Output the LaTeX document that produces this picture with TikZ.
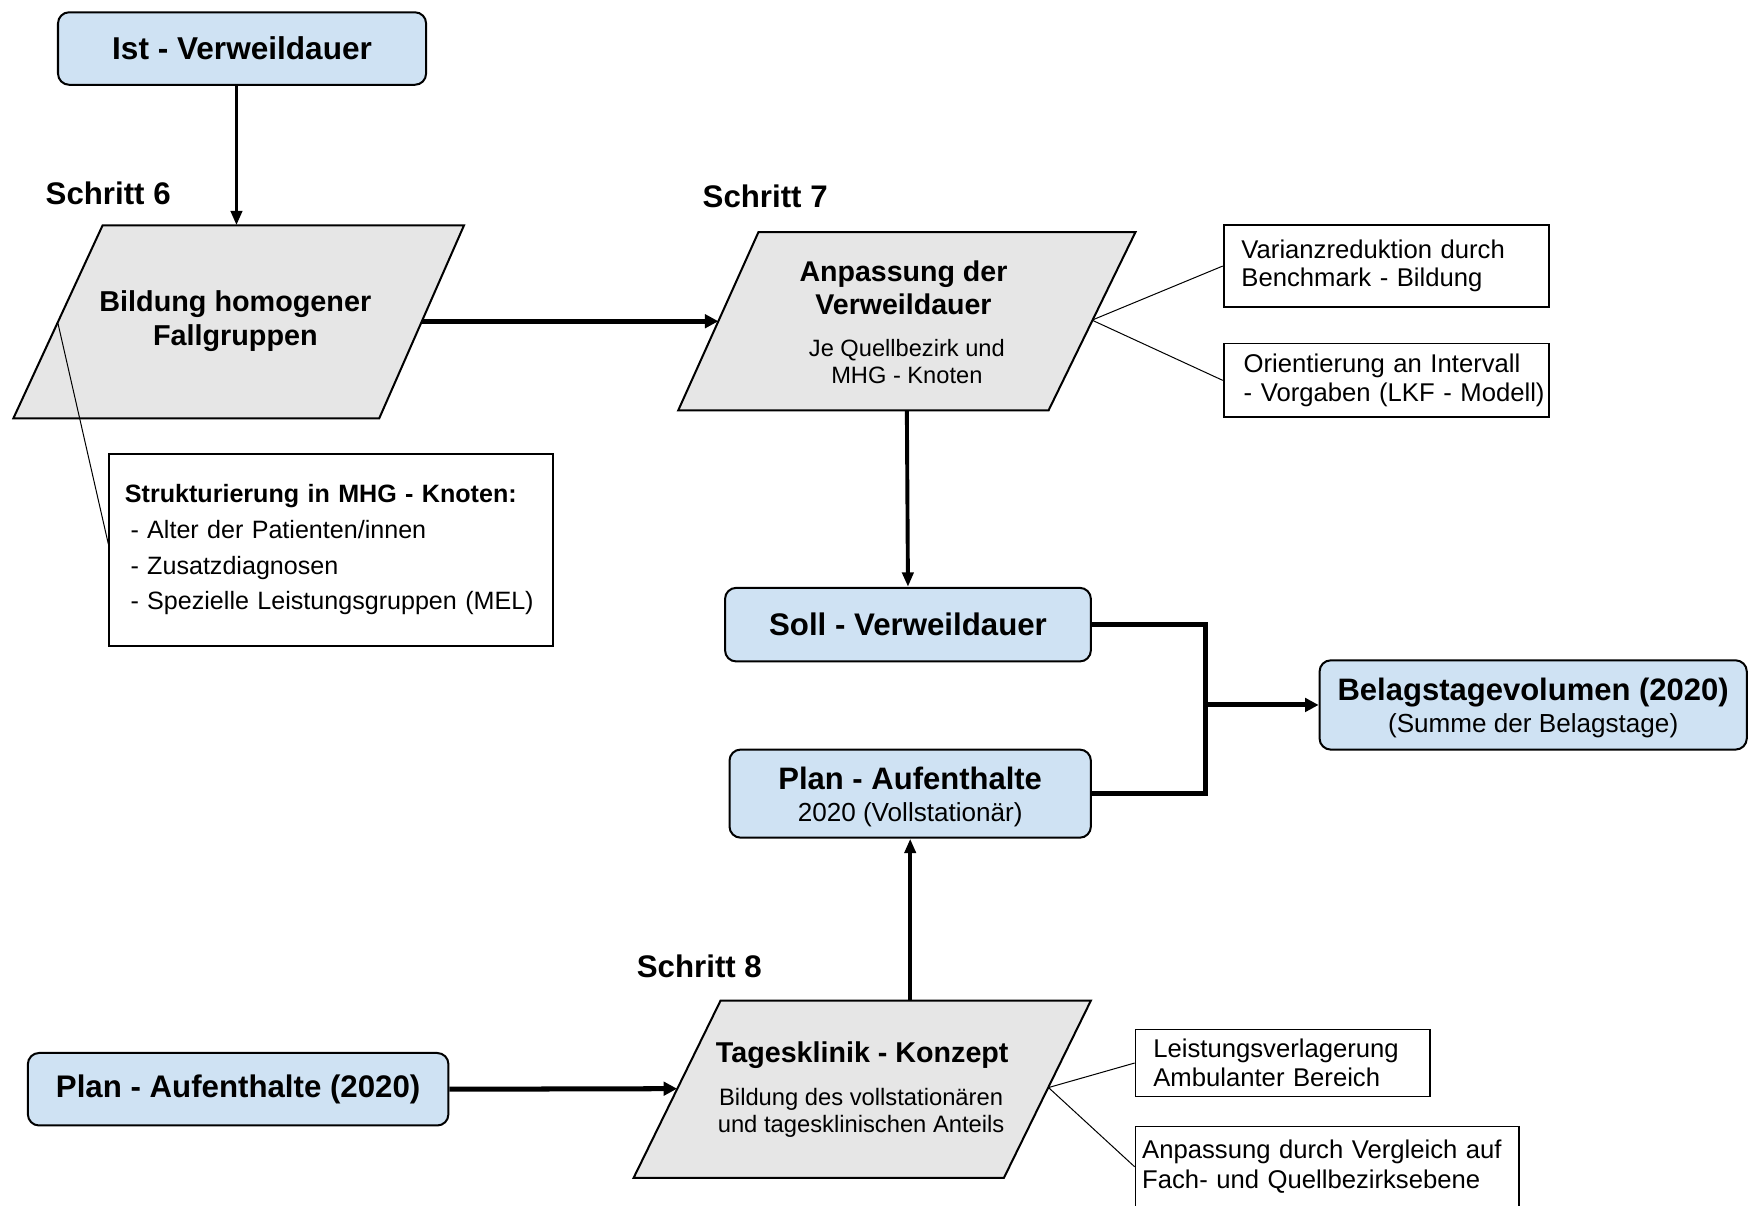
\documentclass[tikz,border=0pt]{standalone}
\usepackage{fontspec}
\setmainfont{Liberation Sans}
\usetikzlibrary{arrows.meta}
\definecolor{boxblue}{RGB}{207,226,243}
\definecolor{paragray}{RGB}{230,230,230}
\newcommand\fsz[2]{\fontsize{#1}{#2}\selectfont}
\newcommand\ind[1]{\hspace*{#1pt}}
\begin{document}
\begin{tikzpicture}[x=1pt,y=-1pt,
  bluebox/.style={draw, line width=1.8pt, rounded corners=10pt, fill=boxblue, align=center, inner sep=0pt},
  paraform/.style={draw, line width=1.8pt, fill=paragray, line join=miter},
  sidebox/.style={draw, line width=1.6pt, align=left, inner xsep=0pt, inner ysep=0pt, font=\fsz{23}{25.5}},
  txt/.style={align=center, inner sep=0pt},
  steplabel/.style={font=\fsz{28}{32}\bfseries, inner sep=0pt},
  bigarrow/.style={line width=4.5pt, -{Triangle[length=12pt,width=12pt]}},
  midarrow/.style={line width=3.5pt, -{Triangle[length=13pt,width=10pt]}},
  thinline/.style={line width=0.9pt},
  joinline/.style={line width=4.5pt, line join=miter}
]
\useasboundingbox (0,0) rectangle (1568,1081);

% --- top: Ist-Verweildauer and step 6
\node[bluebox, minimum width=330pt, minimum height=65pt, font=\fsz{28.3}{32}\bfseries] (ist) at (217,43.5) {Ist - Verweildauer};
\node[steplabel] (s6) at (97,173) {Schritt 6};
\draw[paraform] (92,202) -- (416,202) -- (340,375) -- (12,375) -- cycle;
\node[txt, font=\fsz{25.8}{30}\bfseries] (p1) at (211,288) {Bildung homogener\\Fallgruppen};
\coordinate (p1top) at (212,202);
\coordinate (p1right) at (378,288);
\coordinate (p1left) at (52,290);
\draw[midarrow] (p1top |- ist.south) -- (p1top);

\node[draw, line width=1.6pt, minimum width=398pt, minimum height=172pt, text width=378pt, align=left, inner xsep=10pt, font=\fsz{22.5}{32}] (struk) at (297,493)
  {\ind{4}\textbf{Strukturierung in MHG - Knoten:}\\
   \ind{9}- Alter der Patienten/innen\\
   \ind{9}- Zusatzdiagnosen\\
   \ind{9}- Spezielle Leistungsgruppen (MEL)};
\draw[thinline] (p1left) -- ([yshift=5pt]struk.west);

% --- step 7
\node[steplabel] (s7) at (686,176) {Schritt 7};
\draw[paraform] (680,208) -- (1018,208) -- (940,368) -- (608,368) -- cycle;
\node[txt, font=\fsz{25.6}{30}\bfseries] (p2) at (810,258) {Anpassung der\\Verweildauer};
\node[txt, font=\fsz{21.2}{24}] (p2sub) at (813,324) {Je Quellbezirk und\\MHG - Knoten};
\coordinate (p2left) at (644,288);
\coordinate (p2right) at (979,287);
\coordinate (p2bottom) at (813,368);
\draw[bigarrow] (p1right) -- (p2left);

\node[sidebox, minimum width=292pt, minimum height=73pt, text width=292pt] (var) at (1243,238.5) {\ind{16}Varianzreduktion durch\\\ind{16}Benchmark - Bildung};
\node[sidebox, minimum width=292pt, minimum height=66pt, text width=292pt] (ori) at (1243,341) {\ind{18}Orientierung an Intervall\\\ind{18}- Vorgaben (LKF - Modell)};
\draw[thinline] (p2right) -- (var.west);
\draw[thinline] (p2right) -- (ori.west);

% --- middle
\node[bluebox, minimum width=328pt, minimum height=66pt, font=\fsz{28}{32}\bfseries] (soll) at (814,560) {Soll - Verweildauer};
\draw[midarrow] (p2bottom) -- (soll.north);

\node[bluebox, minimum width=324pt, minimum height=79pt, font=\fsz{23.4}{29}] (plan) at (816,711.5)
  {\rule{0pt}{26pt}\fsz{27.8}{29}\bfseries Plan - Aufenthalte\\\fsz{23.4}{29}\mdseries 2020 (Vollstationär)};
\node[bluebox, minimum width=383pt, minimum height=80pt, font=\fsz{23.4}{29}] (belag) at (1374.5,632)
  {\rule{0pt}{26pt}\fsz{27.8}{29}\bfseries Belagstagevolumen (2020)\\\fsz{23.4}{29}\mdseries (Summe der Belagstage)};

\coordinate (junction) at (1081,632);
\draw[joinline] (soll.east) -| (junction) |- (plan.east);
\draw[bigarrow] (junction) -- (belag.west);

% --- step 8
\node[steplabel] (s8) at (627,866) {Schritt 8};
\draw[paraform] (646,897) -- (978,897) -- (900,1056) -- (568,1056) -- cycle;
\node[txt, font=\fsz{25.7}{30}\bfseries] (p3) at (773,946) {Tagesklinik - Konzept};
\node[txt, font=\fsz{21.3}{24}] (p3sub) at (772,998) {Bildung des vollstationären\\und tagesklinischen Anteils};
\coordinate (p3top) at (816,897);
\coordinate (p3left) at (607,976);
\coordinate (p3right) at (940,975);
\draw[midarrow] (p3top) -- (plan.south);

\node[bluebox, minimum width=377pt, minimum height=65pt, font=\fsz{28}{32}\bfseries] (plan0) at (213.5,976.5) {Plan - Aufenthalte (2020)};
\draw[bigarrow] (plan0.east) -- (p3left);

\node[sidebox, minimum width=264pt, minimum height=60pt, text width=264pt] (leist) at (1150,953) {\ind{16}Leistungsverlagerung\\\ind{16}Ambulanter Bereich};
\node[sidebox, minimum width=344pt, minimum height=72pt, text width=344pt, font=\fsz{23}{27}] (anp) at (1190,1046) {\ind{6}Anpassung durch Vergleich auf\\\ind{6}Fach- und Quellbezirksebene};
\draw[thinline] (p3right) -- (leist.west);
\draw[thinline] (p3right) -- (anp.west);
\end{tikzpicture}
\end{document}
